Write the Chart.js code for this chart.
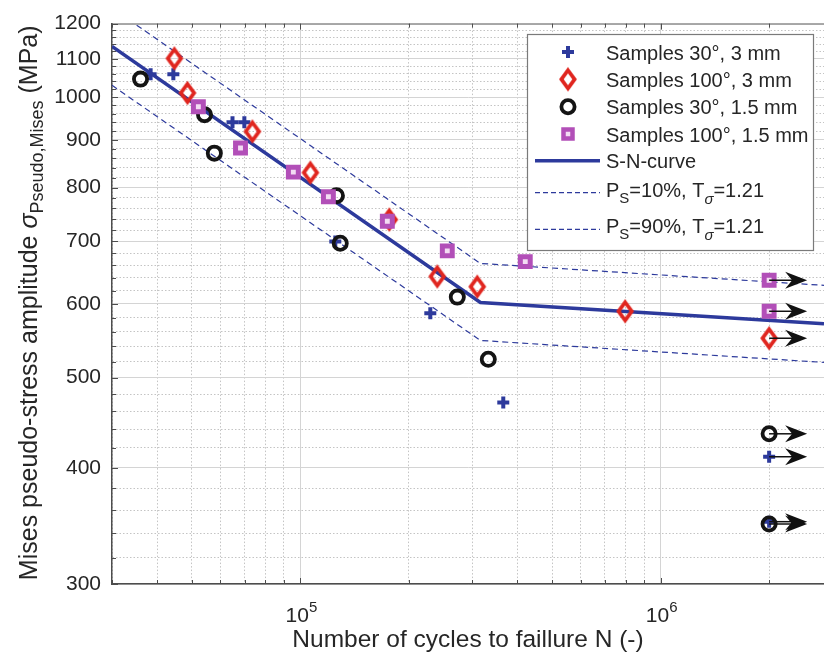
<!DOCTYPE html>
<html lang="en">
<head>
<meta charset="UTF-8">
<title>S-N curve</title>
<script src="https://cdn.jsdelivr.net/npm/chart.js@4.4.1/dist/chart.umd.min.js"></script>
<style>
  html, body { margin: 0; padding: 0; background: #fff; }
</style>
</head>
<body>
<canvas id="grafico" width="824" height="661"></canvas>
<script>
// Samples 30°, 3 mm
const n30_3 = [38400, 44400, 64800, 69900, 125000, 229400, 365700, 2000000, 2000000];
const s30_3 = [1059, 1059, 940, 940, 700, 586, 470, 411, 350];
// Samples 100°, 3 mm
const n100_3 = [44700, 48600, 73600, 106600, 176500, 239900, 309700, 797000, 2000000];
const s100_3 = [1101, 1011, 919, 830, 739, 642, 626, 589, 551];
// Samples 30°, 1.5 mm
const n30_15 = [36000, 54200, 57700, 125900, 129000, 272600, 332300, 2000000, 2000000];
const s30_15 = [1046, 958, 871, 784, 697, 610, 523, 435, 348];
// Samples 100°, 1.5 mm
const n100_15 = [52100, 68200, 95600, 119600, 174300, 255700, 420900, 2000000, 2000000];
const s100_15 = [977, 882, 831, 782, 736, 684, 666, 636, 589];

// S-N curve and scatter band
const nCurve = [30000, 316000, 2840000];
const sCurve = [1134, 602, 571];
const sP10 = [1247, 663, 628];
const sP90 = [1030, 548, 519];

// run-outs (arrows)
const nRunout = [2000000, 2000000, 2000000, 2000000, 2000000, 2000000, 2000000];
const sRunout = [636, 589, 551, 435, 411, 350, 348];
const nArrowTip = 2550000;

// axes
const xMajor = [100000, 1000000];
const xTicks = [30000, 40000, 50000, 60000, 70000, 80000, 90000, 100000,
  200000, 300000, 400000, 500000, 600000, 700000, 800000, 900000, 1000000, 2000000];
const yLabels = [300, 400, 500, 600, 700, 800, 900, 1000, 1100, 1200];
const yTicks = [];
for (let v = 300; v <= 1200; v += 20) yTicks.push(v);

const FONT = '"Liberation Sans", Arial, sans-serif';
const TEXT = '#262626';
const BLUE = '#2d3a9c';
const RED = '#e0261f';
const BLACK = '#141414';
const MAGENTA = '#b24fb8';

const pts = (xs, ys) => xs.map((x, i) => ({ x: x, y: ys[i] }));

// tall hollow diamond like the matlab one
function diamante() {
  const c = document.createElement('canvas');
  c.width = 22; c.height = 28;
  const g = c.getContext('2d');
  g.strokeStyle = RED;
  g.lineWidth = 3.8;
  g.beginPath();
  g.moveTo(11, 5); g.lineTo(17.6, 14); g.lineTo(11, 23); g.lineTo(4.4, 14);
  g.closePath();
  g.stroke();
  return c;
}
const diamond = diamante();

function marcador(ctx, tipo, x, y) {
  ctx.save();
  if (tipo === 'plus') {
    ctx.strokeStyle = BLUE; ctx.lineWidth = 4;
    ctx.beginPath();
    ctx.moveTo(x - 6, y); ctx.lineTo(x + 6, y);
    ctx.moveTo(x, y - 6); ctx.lineTo(x, y + 6);
    ctx.stroke();
  } else if (tipo === 'diamond') {
    ctx.drawImage(diamond, x - 11, y - 14);
  } else if (tipo === 'circle') {
    ctx.strokeStyle = BLACK; ctx.lineWidth = 3.8;
    ctx.beginPath(); ctx.arc(x, y, 6.6, 0, Math.PI * 2); ctx.stroke();
  } else if (tipo === 'square') {
    ctx.fillStyle = '#f3dcf3'; ctx.strokeStyle = MAGENTA; ctx.lineWidth = 4.5;
    ctx.beginPath(); ctx.rect(x - 4.5, y - 4.5, 9, 9); ctx.fill(); ctx.stroke();
  } else if (tipo === 'solid' || tipo === 'dash') {
    ctx.strokeStyle = BLUE;
    ctx.lineWidth = tipo === 'solid' ? 3.5 : 1.3;
    if (tipo === 'dash') ctx.setLineDash([5, 3]);
    ctx.beginPath(); ctx.moveTo(x - 33, y); ctx.lineTo(x + 32, y); ctx.stroke();
  }
  ctx.restore();
}

// text with sub/superscripts: parts = [[text, size, dy, italic]]
function textoRico(ctx, parts, x, y, medir) {
  let w = 0;
  parts.forEach(p => {
    ctx.font = (p[3] ? 'italic ' : '') + p[1] + 'px ' + FONT;
    if (!medir) ctx.fillText(p[0], x + w, y + p[2]);
    w += ctx.measureText(p[0]).width;
  });
  return w;
}

const extras = {
  id: 'extras',
  afterDatasetsDraw(chart) {
    const ctx = chart.ctx;
    const xs = chart.scales.x, ys = chart.scales.y;
    ctx.save();
    ctx.fillStyle = '#111';
    ctx.strokeStyle = '#111';
    ctx.lineWidth = 1.5;
    nRunout.forEach((n, i) => {
      const x0 = xs.getPixelForValue(n);
      const x1 = xs.getPixelForValue(nArrowTip);
      const y = ys.getPixelForValue(sRunout[i]);
      ctx.beginPath(); ctx.moveTo(x0, y); ctx.lineTo(x1 - 14, y); ctx.stroke();
      ctx.beginPath();
      ctx.moveTo(x1, y); ctx.lineTo(x1 - 22, y - 8.5); ctx.lineTo(x1 - 15, y); ctx.lineTo(x1 - 22, y + 8.5);
      ctx.closePath(); ctx.fill();
    });
    ctx.restore();
  },
  afterDraw(chart) {
    const ctx = chart.ctx;
    const a = chart.chartArea;
    const xs = chart.scales.x, ys = chart.scales.y;
    ctx.save();

    // top box line + inward ticks
    ctx.strokeStyle = '#6a6a6a';
    ctx.lineWidth = 1;
    ctx.beginPath(); ctx.moveTo(a.left, a.top + 0.5); ctx.lineTo(a.right, a.top + 0.5); ctx.stroke();
    ctx.strokeStyle = '#4d4d4d';
    ctx.beginPath();
    xTicks.forEach(v => {
      const px = Math.round(xs.getPixelForValue(v)) + 0.5;
      const len = xMajor.includes(v) ? 6 : 4;
      ctx.moveTo(px, a.bottom); ctx.lineTo(px, a.bottom - len);
      ctx.moveTo(px, a.top); ctx.lineTo(px, a.top + len);
    });
    yTicks.forEach(v => {
      const py = Math.round(ys.getPixelForValue(v)) + 0.5;
      const len = yLabels.includes(v) ? 6 : 4;
      ctx.moveTo(a.left, py); ctx.lineTo(a.left + len, py);
    });
    ctx.stroke();

    // x tick labels 10^n
    ctx.fillStyle = TEXT;
    ctx.textBaseline = 'alphabetic';
    xMajor.forEach(v => {
      const px = xs.getPixelForValue(v);
      const exp = String(Math.round(Math.log10(v)));
      const parts = [['10', 21, 0], [exp, 15, -10]];
      const w = textoRico(ctx, parts, 0, 0, true);
      textoRico(ctx, parts, px - w / 2 + 1, 622, false);
    });

    // y title
    const yt = [['Mises pseudo-stress amplitude ', 25, 0], ['\u03c3', 25, 0, true],
      ['Pseudo,Mises', 18, 6], [' (MPa)', 25, 0]];
    const wt = textoRico(ctx, yt, 0, 0, true);
    ctx.save();
    ctx.translate(37, (a.top + a.bottom) / 2 - 1);
    ctx.rotate(-Math.PI / 2);
    textoRico(ctx, yt, -wt / 2, 0, false);
    ctx.restore();

    // legend
    ctx.fillStyle = '#fff';
    ctx.fillRect(527, 34, 286, 216);
    ctx.strokeStyle = '#7a7a7a';
    ctx.lineWidth = 1.2;
    ctx.strokeRect(527.5, 34.5, 286, 216);
    const leg = [
      ['plus', [['Samples 30\u00b0, 3 mm', 20, 0]], 59.5],
      ['diamond', [['Samples 100\u00b0, 3 mm', 20, 0]], 86.8],
      ['circle', [['Samples 30\u00b0, 1.5 mm', 20, 0]], 114.2],
      ['square', [['Samples 100\u00b0, 1.5 mm', 20, 0]], 141.5],
      ['solid', [['S-N-curve', 20, 0]], 168.3],
      ['dash', [['P', 20, 0], ['S', 15, 6], ['=10%, T', 20, 0], ['\u03c3', 15, 7, true], ['=1.21', 20, 0]], 196.7],
      ['dash', [['P', 20, 0], ['S', 15, 6], ['=90%, T', 20, 0], ['\u03c3', 15, 7, true], ['=1.21', 20, 0]], 233.3]
    ];
    leg.forEach(r => {
      const my = r[0] === 'dash' ? r[2] - 4 : r[2] - 7.5;
      marcador(ctx, r[0], 568, my);
      ctx.fillStyle = TEXT;
      textoRico(ctx, r[1], 606, r[2], false);
    });
    ctx.restore();
  }
};

const majorGrid = '#d4d4d4';
const minorGrid = '#c4c4c4';

new Chart(document.getElementById('grafico'), {
  type: 'scatter',
  data: {
    datasets: [
      { label: 'Samples 100°, 1.5 mm', data: pts(n100_15, s100_15), order: 1,
        pointStyle: 'rect', radius: 7, borderWidth: 5, borderColor: MAGENTA, backgroundColor: '#f3dcf3' },
      { label: 'Samples 30°, 1.5 mm', data: pts(n30_15, s30_15), order: 2,
        pointStyle: 'circle', radius: 6.6, borderWidth: 3.8, borderColor: BLACK, backgroundColor: 'rgba(0,0,0,0)' },
      { label: 'Samples 100°, 3 mm', data: pts(n100_3, s100_3), order: 3,
        pointStyle: diamond, radius: 10 },
      { label: 'Samples 30°, 3 mm', data: pts(n30_3, s30_3), order: 4,
        pointStyle: 'cross', radius: 6, borderWidth: 4, borderColor: BLUE },
      { label: 'S-N-curve', data: pts(nCurve, sCurve), order: 5, showLine: true,
        borderColor: BLUE, borderWidth: 3.5, pointRadius: 0 },
      { label: 'PS=10%, Tσ=1.21', data: pts(nCurve, sP10), order: 6, showLine: true,
        borderColor: BLUE, borderWidth: 1.2, borderDash: [6, 4], pointRadius: 0 },
      { label: 'PS=90%, Tσ=1.21', data: pts(nCurve, sP90), order: 7, showLine: true,
        borderColor: BLUE, borderWidth: 1.2, borderDash: [6, 4], pointRadius: 0 }
    ]
  },
  options: {
    responsive: false,
    animation: false,
    devicePixelRatio: 1,
    layout: { autoPadding: false, padding: { top: 17, right: 0, bottom: 0, left: 0 } },
    plugins: { legend: { display: false }, tooltip: { enabled: false } },
    scales: {
      x: {
        type: 'logarithmic', min: 30000, max: 2840000,
        afterBuildTicks: s => { s.ticks = xTicks.map(v => ({ value: v })); },
        afterFit: s => { s.height = 77; },
        ticks: { display: false, autoSkip: false },
        grid: { drawTicks: false, lineWidth: 1,
          color: c => (c.tick && xMajor.includes(c.tick.value)) ? majorGrid : minorGrid },
        border: { display: true, color: '#4d4d4d', width: 1.5,
          dash: c => (c.tick && !xMajor.includes(c.tick.value)) ? [1.5, 2] : [] },
        title: { display: true, text: 'Number of cycles to faillure N (-)', color: TEXT,
          font: { family: FONT, size: 24.5 }, padding: { top: 0, bottom: 6 } }
      },
      y: {
        type: 'logarithmic', min: 300, max: 1200,
        afterBuildTicks: s => { s.ticks = yTicks.map(v => ({ value: v })); },
        afterFit: s => { s.width = 112; },
        ticks: { autoSkip: false, padding: 11, color: TEXT, font: { family: FONT, size: 21 },
          callback: v => yLabels.includes(v) ? String(v) : '' },
        grid: { drawTicks: false, lineWidth: 1,
          color: c => (c.tick && yLabels.includes(c.tick.value)) ? majorGrid : minorGrid },
        border: { display: true, color: '#4d4d4d', width: 1.5,
          dash: c => (c.tick && !yLabels.includes(c.tick.value)) ? [1.5, 2] : [] }
      }
    }
  },
  plugins: [extras]
});
</script>
</body>
</html>
